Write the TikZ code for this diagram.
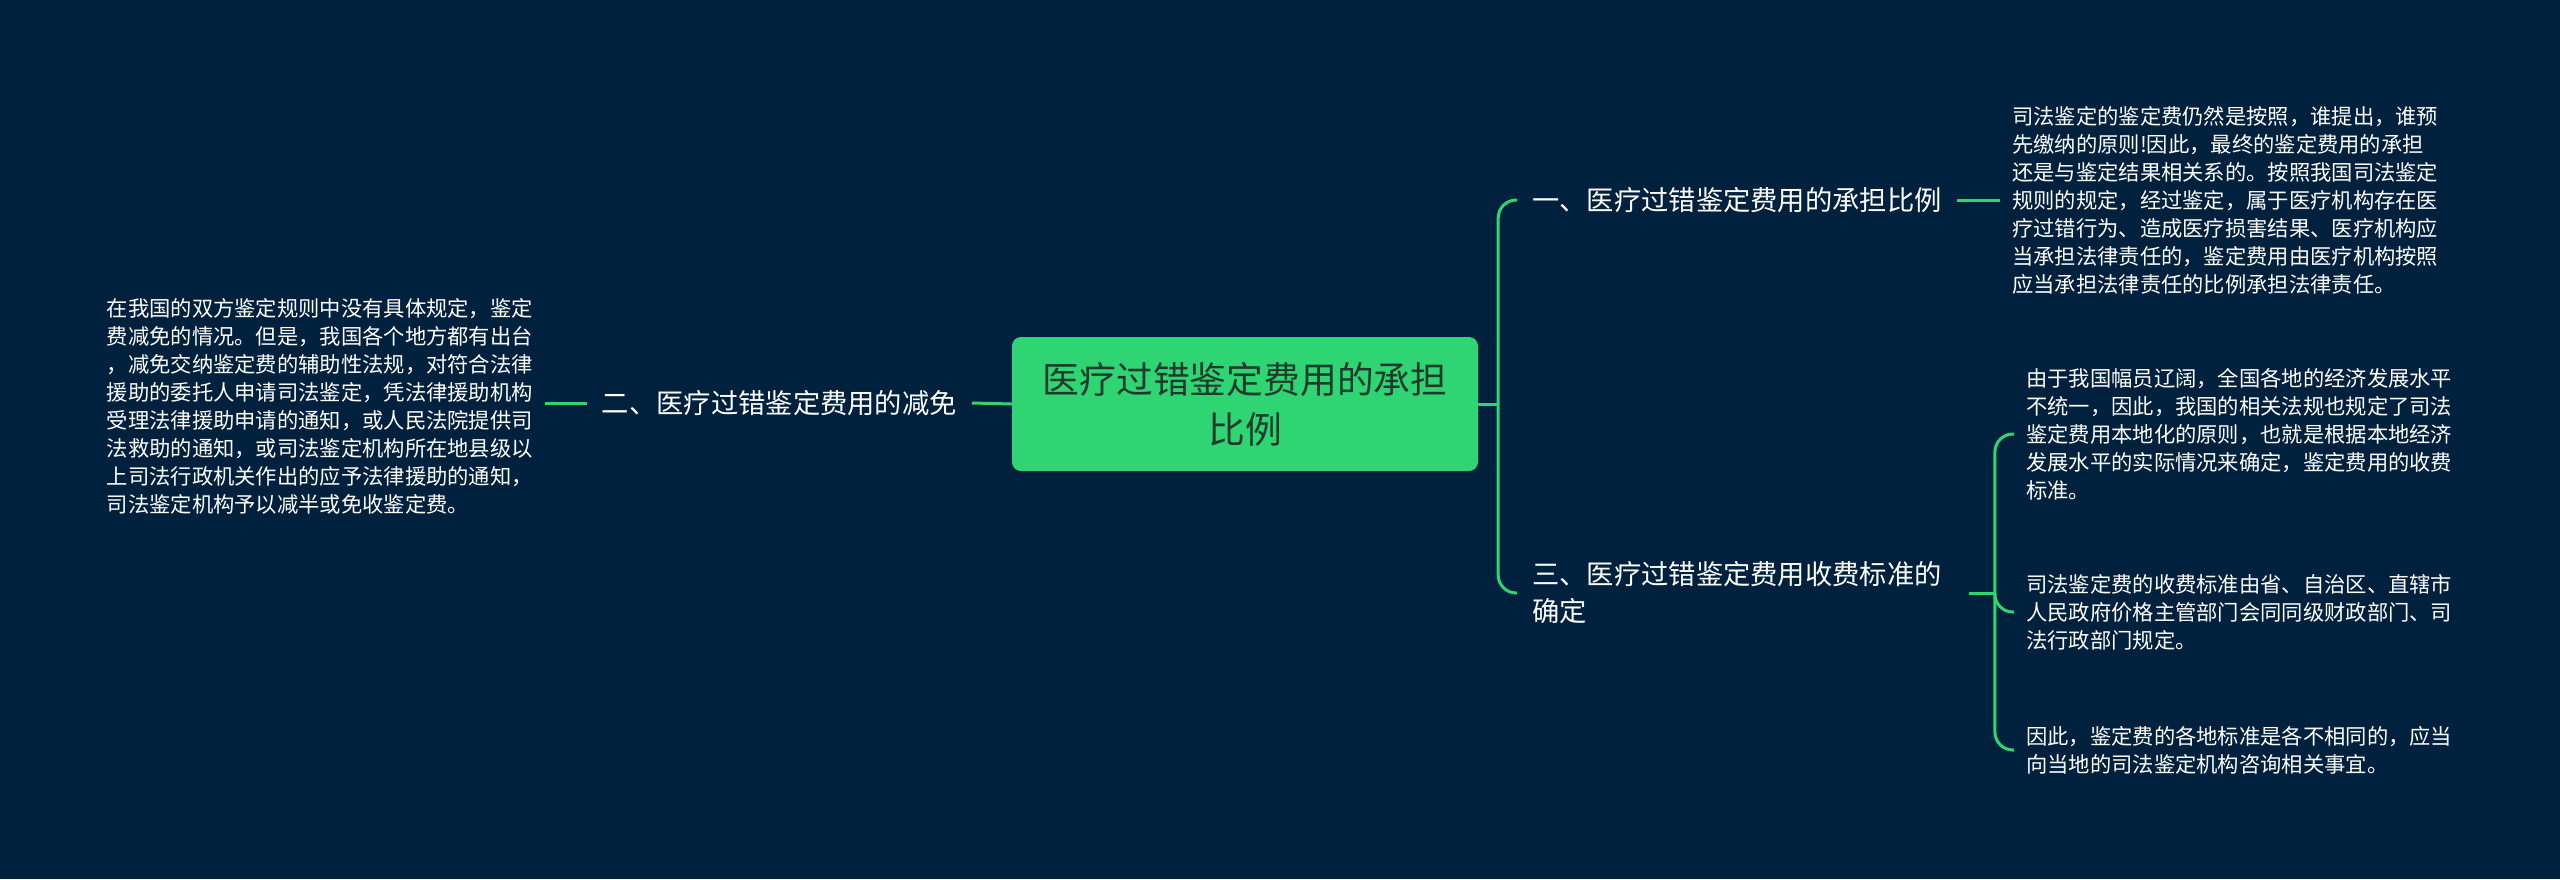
\documentclass[tikz,border=0pt]{standalone}
\usepackage{fontspec}
\setmainfont{Noto Sans CJK SC}
\usetikzlibrary{calc}
\definecolor{Bg}{HTML}{00213D}
\definecolor{Mint}{HTML}{2FD573}
\definecolor{Ink}{HTML}{1E3A2C}

\begin{document}
\begin{tikzpicture}[x=1pt,y=-1pt,
    link/.style={draw=Mint,line width=3pt},
    elbow/.style={link,rounded corners=18pt},
    rootbox/.style={fill=Mint,rounded corners=9pt,minimum width=466pt,minimum height=134pt,
      align=center,text=Ink,font=\fontsize{36.8}{50}\selectfont},
    branch/.style={text=white,align=left,inner xsep=15pt,inner ysep=2pt,
      font=\fontsize{27.3}{37}\selectfont},
    leaf/.style={text=white,align=left,inner xsep=12pt,inner ysep=2pt,
      font=\fontsize{21.3}{28}\selectfont}]
        \fill[Bg] (0,0) rectangle (2560,879);
        \node[rootbox] (root) at (1245,404) {医疗过错鉴定费用的承担\\比例};
        \node[branch,anchor=east] (b2) at (972,403) {二、医疗过错鉴定费用的减免};
        \node[leaf,anchor=east] (l2) at (545,406) {在我国的双方鉴定规则中没有具体规定，鉴定\\费减免的情况。但是，我国各个地方都有出台\\，减免交纳鉴定费的辅助性法规，对符合法律\\援助的委托人申请司法鉴定，凭法律援助机构\\受理法律援助申请的通知，或人民法院提供司\\法救助的通知，或司法鉴定机构所在地县级以\\上司法行政机关作出的应予法律援助的通知，\\司法鉴定机构予以减半或免收鉴定费。};
        \node[branch,anchor=west] (b1) at (1517,200) {一、医疗过错鉴定费用的承担比例};
        \node[branch,anchor=west] (b3) at (1517,593) {三、医疗过错鉴定费用收费标准的\\确定};
        \node[leaf,anchor=west] (l1) at (2000,200) {司法鉴定的鉴定费仍然是按照，谁提出，谁预\\先缴纳的原则!因此，最终的鉴定费用的承担\\还是与鉴定结果相关系的。按照我国司法鉴定\\规则的规定，经过鉴定，属于医疗机构存在医\\疗过错行为、造成医疗损害结果、医疗机构应\\当承担法律责任的，鉴定费用由医疗机构按照\\应当承担法律责任的比例承担法律责任。};
        \node[leaf,anchor=west] (l3a) at (2014,434) {由于我国幅员辽阔，全国各地的经济发展水平\\不统一，因此，我国的相关法规也规定了司法\\鉴定费用本地化的原则，也就是根据本地经济\\发展水平的实际情况来确定，鉴定费用的收费\\标准。};
        \node[leaf,anchor=west] (l3b) at (2014,612) {司法鉴定费的收费标准由省、自治区、直辖市\\人民政府价格主管部门会同同级财政部门、司\\法行政部门规定。};
        \node[leaf,anchor=west] (l3c) at (2014,750) {因此，鉴定费的各地标准是各不相同的，应当\\向当地的司法鉴定机构咨询相关事宜。};
        \coordinate (j1) at ($(root.east)+(20,0)$);
        \coordinate (j3) at ($(b3.east)+(38,0)$);
        \draw[link] (root.east) -- (j1);
        \draw[elbow] (j1) |- (b1.west);
        \draw[elbow] (j1) |- (b3.west);
        \draw[link] (root.west) -- (b2.east);
        \draw[link] (b2.west) -- (b2.west -| l2.east);
        \draw[link] (b1.east) -- (b1.east -| l1.west);
        \draw[link,shorten <=12pt] (b3.east) -- (j3);
        \foreach \k in {l3a,l3b,l3c}
          \draw[elbow] (j3) |- (\k.west);
      \end{tikzpicture}
\end{document}
